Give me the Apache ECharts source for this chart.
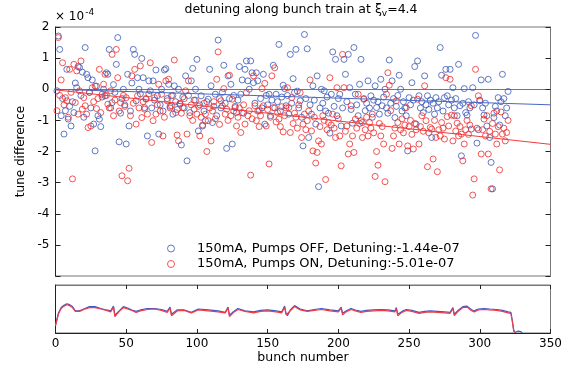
<!DOCTYPE html>
<html><head><meta charset="utf-8">
<script src="https://cdn.jsdelivr.net/npm/echarts@6/dist/echarts.min.js"></script>
<style>html,body{margin:0;padding:0;background:#fff}#c{width:570px;height:366px}</style>
</head><body><div id="c"></div>
<script>
// tune difference (units of 1e-4), one value per bunch starting at bunch 1
const blueTune = [
-0.05,1.71,1.28,-0.85,-0.3,-1.44,-0.69,0.64,-0.96,-0.55,
-1.18,-0.4,-0.75,0.2,0.05,0.73,0.7,-0.2,0.55,-0.9,
1.34,0.48,0.37,-0.1,-0.6,0.3,-1.12,-1.98,0.1,-0.85,
-0.96,-1.2,-0.25,0.0,-0.21,0.53,0.48,1.28,-0.6,-0.43,
0.15,-0.1,0.8,1.66,-1.69,-0.77,-0.3,0.0,-0.5,-1.76,
0.48,-1.18,-0.7,0.2,1.28,1.12,-0.37,0.37,0.0,-0.15,
0.99,0.37,-0.59,-0.3,-1.5,0.27,-0.05,-0.6,0.27,-0.35,
0.62,-0.21,-1.44,-0.5,0.0,-0.7,0.62,0.66,-0.3,0.16,
-0.55,-0.21,-0.8,0.11,-0.4,-0.65,0.0,-0.48,-1.79,-0.25,
-0.6,0.43,-2.3,-0.2,-0.75,0.27,0.67,-0.35,0.0,0.96,
-1.34,-0.5,-0.21,-1.18,-0.7,-1.01,-0.4,-0.32,0.64,0.11,
-1.07,-0.55,-0.16,-0.85,1.58,-0.3,-0.6,-0.1,0.77,-0.45,
-1.9,0.43,-0.3,0.16,-1.76,-0.2,-0.59,-0.75,-0.35,0.73,
-0.16,0.3,-0.77,0.64,0.91,0.27,0.0,0.91,0.53,0.21,
-0.45,0.53,0.27,-0.69,-0.3,-0.6,0.48,-1.12,-0.2,-0.5,
-0.16,-0.85,-0.35,0.77,-0.6,-0.16,-0.4,1.44,-0.7,-0.25,
0.13,0.02,-0.53,-0.2,-0.8,1.12,-0.45,0.34,-0.1,1.28,
-0.06,-0.6,-0.37,-0.9,-1.82,1.76,-0.3,1.3,-1.55,-0.5,
-0.8,0.11,-0.35,-1.12,0.43,-3.13,-0.6,0.0,-0.45,-0.05,
-0.7,-0.25,-0.77,-1.41,-0.16,1.2,-0.55,0.96,-0.85,-0.3,
-0.16,-1.18,-0.6,0.96,0.48,-0.4,1.12,0.05,-0.65,-1.09,
1.34,-0.16,-0.5,-0.85,0.16,0.96,-1.07,-0.3,-0.69,-0.45,
0.27,-0.6,-0.21,-0.9,-0.35,0.11,-0.59,-0.4,-0.8,0.32,
-0.53,-0.25,0.0,-0.6,-0.77,0.94,-0.45,0.27,-0.3,-0.91,
-0.55,-0.2,0.45,0.0,-0.7,-0.4,-0.6,-0.85,-1.98,-0.27,
-0.5,0.21,-0.35,0.73,-1.12,0.91,-0.21,-0.6,-0.4,-0.75,
0.43,-0.5,-0.21,-0.65,-0.35,-1.55,-0.45,-0.8,-0.27,-0.6,
-0.4,1.34,0.45,-0.7,-0.27,0.64,-0.21,-0.5,0.64,-0.35,
0.05,-0.6,-0.3,-0.85,0.8,-0.53,-2.14,-0.45,0.02,-0.75,
-0.83,-0.4,-0.6,-1.28,0.05,-0.5,1.73,-1.73,-1.3,-0.35,
0.3,-0.6,-0.83,-0.45,-1.18,0.32,-1.55,-2.35,-3.2,-0.91,
-0.55,-0.7,-0.27,-1.15,-0.4,0.48,-0.3,-0.85,-0.6,-0.07
];
const redTune = [
-0.69,1.66,-0.2,0.3,0.85,-0.5,-0.27,-0.37,-0.9,0.64,
-0.1,-2.88,0.8,-0.43,0.59,-0.8,-0.05,0.91,-0.64,-0.27,
-0.53,-0.8,-1.23,-0.1,-1.18,0.05,-0.4,0.1,-0.62,-0.3,
0.64,-0.75,-0.16,0.16,0.48,-0.2,-0.48,-0.6,-0.05,1.12,
-0.85,-0.35,1.28,0.37,-0.7,-0.43,-2.78,-0.2,-0.55,-0.27,
-2.94,-2.54,-0.85,0.43,-0.45,0.64,-1.12,-0.21,-0.6,0.75,
-0.91,-0.4,-0.64,-0.32,-0.8,-0.15,0.85,-1.71,-1.01,-0.27,
-0.8,-0.5,0.16,-0.7,-0.16,-1.5,-0.9,0.27,-0.37,0.32,
-0.6,-0.53,-0.2,0.94,-0.75,-1.47,-1.66,-0.45,-0.77,-0.59,
-0.3,-0.05,-1.44,0.27,-0.85,-0.5,-1.0,-0.64,-0.35,-0.8,
-0.55,-1.5,-0.9,-1.15,-0.45,-0.8,-2.0,-1.01,-0.6,-1.66,
-0.7,-0.4,-0.95,0.32,1.2,-1.13,-0.37,-0.53,0.02,-0.8,
-0.64,-1.0,0.45,-0.85,-0.32,-0.7,-0.55,-1.18,-0.9,-0.6,
-1.39,-0.75,-0.5,-1.12,-0.11,-0.85,-0.69,-2.76,-0.95,0.43,
-0.53,-1.01,-0.7,-1.2,-0.85,0.02,-0.53,0.19,-1.18,-0.65,
-2.4,-0.9,0.43,-0.59,0.69,-1.05,-0.75,-0.96,-1.2,-0.56,
-1.37,-0.85,-0.6,0.05,-0.59,-1.39,-0.27,-1.1,-0.77,-0.9,
-1.25,-0.5,-0.11,-1.55,-1.12,-0.8,-1.3,-1.01,-0.7,0.3,
-1.34,-1.98,-0.9,-2.37,-2.03,-1.66,-1.2,-1.76,-0.85,-1.0,
-2.9,-1.3,-1.07,0.37,-1.15,-0.8,-1.25,-1.55,0.05,-0.95,
-1.5,-2.46,1.12,0.05,-1.35,-1.18,-2.08,-1.76,-0.53,-1.5,
-2.03,-0.96,-1.25,-0.16,-1.1,-1.01,-1.55,-0.32,-1.3,-0.9,
-1.5,-1.07,-1.25,-0.8,-1.4,-2.8,-2.0,-2.44,-1.1,-1.5,
-1.2,-1.76,-2.97,-0.16,0.53,0.13,-0.69,-1.9,-1.5,-1.25,
-0.37,-1.07,-1.76,-1.3,-0.95,-1.4,-1.15,-0.59,-1.82,-1.2,
-1.0,-1.45,-1.92,-1.1,-1.3,-0.32,-1.76,-1.2,-0.85,-1.35,
0.11,-1.01,-2.49,-1.4,-1.23,-1.28,-2.24,-1.0,-1.55,-2.65,
-1.3,-1.5,-1.07,-1.25,-1.6,0.37,-0.88,-1.18,0.32,-0.83,
-1.66,-0.85,-1.34,-1.09,-1.5,-1.2,-1.44,-2.3,-1.76,-1.3,
-1.0,-1.45,-1.15,-0.53,-3.4,-2.88,0.64,-1.25,-0.21,-0.37,
-2.08,-1.3,-0.96,-1.5,-0.85,-2.08,-1.35,-3.2,-1.1,-0.77,
-1.44,-1.76,-1.2,-2.59,-0.73,-1.44,-1.25,-1.66,-1.39,-1.0
];
// linear fit end points (bunch, tune difference)
const fitBunch = [0, 350];
const blueFit = [0.0, -0.5];
const redFit = [-0.02, -1.77];
// bunch fill pattern (lower panel), sampled along the train
const curBunch = [0,2,4,6,8,10,12,14,15,17,20,24,28,32,36,39,40,41,42,43,45,48,51,54,57,60,65,70,75,79,80,81,82,83,86,91,96,101,108,115,120,121,122,123,124,126,129,134,140,145,150,156,160,161,162,163,164,166,169,173,178,183,188,194,200,201,202,203,204,206,209,212,216,220,225,230,235,240,241,242,243,245,248,252,257,261,265,270,275,279,280,281,282,283,285,288,291,294,296,299,303,307,312,316,320,322,323,324,325,326,327,328,329,330];
const blueCurrent = [0.17,0.41,0.53,0.58,0.61,0.59,0.55,0.46,0.42,0.46,0.5,0.55,0.55,0.51,0.48,0.46,0.48,0.56,0.37,0.35,0.46,0.55,0.52,0.48,0.45,0.48,0.51,0.51,0.49,0.45,0.47,0.54,0.39,0.36,0.48,0.48,0.43,0.5,0.48,0.46,0.43,0.44,0.54,0.37,0.33,0.45,0.51,0.46,0.44,0.47,0.48,0.46,0.44,0.45,0.56,0.41,0.36,0.48,0.57,0.5,0.46,0.49,0.51,0.48,0.46,0.46,0.54,0.41,0.38,0.47,0.51,0.48,0.45,0.47,0.48,0.49,0.48,0.46,0.53,0.39,0.35,0.45,0.49,0.47,0.43,0.45,0.46,0.45,0.44,0.43,0.44,0.53,0.39,0.35,0.48,0.55,0.56,0.49,0.46,0.5,0.51,0.5,0.49,0.47,0.44,0.43,0.26,0.06,0.01,0.02,0.04,0.0,0.03,0.0];
const redCurrent = [0.15,0.39,0.51,0.56,0.59,0.57,0.53,0.45,0.41,0.45,0.49,0.53,0.53,0.5,0.47,0.44,0.46,0.54,0.34,0.33,0.45,0.53,0.5,0.47,0.43,0.46,0.49,0.5,0.47,0.43,0.45,0.52,0.36,0.34,0.46,0.47,0.42,0.48,0.46,0.44,0.42,0.42,0.52,0.34,0.31,0.43,0.49,0.45,0.42,0.45,0.46,0.44,0.42,0.43,0.54,0.38,0.34,0.46,0.55,0.48,0.45,0.47,0.49,0.46,0.44,0.44,0.52,0.38,0.36,0.45,0.49,0.46,0.43,0.45,0.46,0.47,0.46,0.44,0.51,0.36,0.33,0.43,0.47,0.45,0.41,0.43,0.44,0.43,0.42,0.41,0.42,0.51,0.36,0.33,0.46,0.53,0.54,0.47,0.44,0.48,0.49,0.48,0.47,0.45,0.42,0.41,0.24,0.04,0.0];
const legendNames = ['150mA, Pumps OFF, Detuning:-1.44e-07', '150mA, Pumps ON, Detuning:-5.01e-07'];

const BLUE = '#3a58b4', RED = '#f02a2a';
const FONT = 'DejaVu Sans';
const chart = echarts.init(document.getElementById('c'), null, {renderer: 'canvas'});
const G0 = {left: 55.5, right: 19.5, top: 27, height: 249};
const G1 = {left: 55.5, right: 19.5, top: 285, height: 48};
const tickStyle = {color: '#000', fontFamily: FONT, fontSize: 12};
chart.setOption({
  animation: false,
  backgroundColor: '#fff',
  textStyle: {fontFamily: FONT},
  grid: [
    Object.assign({show: true, borderColor: '#777', borderWidth: 1, containLabel: false, outerBoundsMode: 'none'}, G0),
    Object.assign({show: true, borderColor: '#777', borderWidth: 1, containLabel: false, outerBoundsMode: 'none'}, G1)
  ],
  graphic: [
    {type: 'text', x: 301, y: 10, style: {text: '{t|detuning along bunch train at ξ}{s|v}{t|=4.4}', align: 'center', verticalAlign: 'middle',
      rich: {t: {fontFamily: FONT, fontSize: 12.5, fill: '#000'}, s: {fontFamily: FONT, fontSize: 9, fill: '#000', padding: [8, 0, 0, 0]}}}},
    {type: 'text', x: 55, y: 17, style: {text: '{t|× 10}{s|-4}', align: 'left', verticalAlign: 'middle',
      rich: {t: {fontFamily: FONT, fontSize: 12, fill: '#000'}, s: {fontFamily: FONT, fontSize: 9, fill: '#000', padding: [0, 0, 9, 1]}}}}
  ],
  legend: {
    data: legendNames, orient: 'vertical', left: 162, top: 237, itemWidth: 42, itemHeight: 7, itemGap: 2.5,
    itemStyle: {borderWidth: 1},
    textStyle: {fontFamily: FONT, fontSize: 13, color: '#000'}, selectedMode: false
  },
  xAxis: [
    {gridIndex: 0, type: 'value', min: 0, max: 350, interval: 50, axisLabel: {show: false}, axisTick: {show: false},
      axisLine: {show: true, lineStyle: {color: '#777'}}, splitLine: {show: false}},
    {gridIndex: 1, type: 'value', min: 0, max: 350, interval: 50, position: 'bottom',
      axisLabel: Object.assign({margin: 5}, tickStyle), axisTick: {inside: true, length: 4, lineStyle: {color: '#222'}},
      axisLine: {show: true, lineStyle: {color: '#222'}}, splitLine: {show: false},
      name: 'bunch number', nameLocation: 'middle', nameGap: 17, nameTextStyle: {fontFamily: FONT, fontSize: 12.5, color: '#000'}},
    {gridIndex: 1, type: 'value', min: 0, max: 350, interval: 50, position: 'top',
      axisLabel: {show: false}, axisTick: {inside: true, length: 4, lineStyle: {color: '#222'}},
      axisLine: {show: true, lineStyle: {color: '#777'}}, splitLine: {show: false}}
  ],
  yAxis: [
    {gridIndex: 0, type: 'value', min: -6, max: 2, interval: 1, position: 'left',
      axisLabel: Object.assign({margin: 6, formatter: v => (v === -6 ? '' : String(v))}, tickStyle),
      axisTick: {inside: true, length: 5, lineStyle: {color: '#222'}}, axisLine: {show: true, lineStyle: {color: '#222'}},
      splitLine: {show: false},
      name: 'tune difference', nameLocation: 'middle', nameGap: 28, nameRotate: 90,
      nameTextStyle: {fontFamily: FONT, fontSize: 12, color: '#000'}},
    {gridIndex: 0, type: 'value', min: -6, max: 2, interval: 1, position: 'right',
      axisLabel: {show: false}, axisTick: {inside: true, length: 5, lineStyle: {color: '#222'}},
      axisLine: {show: true, lineStyle: {color: '#777'}}, splitLine: {show: false}},
    {gridIndex: 1, type: 'value', min: 0, max: 1, axisLabel: {show: false}, axisTick: {show: false},
      axisLine: {show: true, lineStyle: {color: '#222'}}, splitLine: {show: false}}
  ],
  series: [
    {name: legendNames[0], type: 'scatter', xAxisIndex: 0, yAxisIndex: 0, symbol: 'circle', symbolSize: 6,
      itemStyle: {color: 'rgba(255,255,255,0)', borderColor: BLUE, borderWidth: 1},
      data: blueTune.map((v, i) => [i + 1, v])},
    {name: legendNames[1], type: 'scatter', xAxisIndex: 0, yAxisIndex: 0, symbol: 'circle', symbolSize: 6,
      itemStyle: {color: 'rgba(255,255,255,0)', borderColor: RED, borderWidth: 1},
      data: redTune.map((v, i) => [i + 1, v])},
    {type: 'line', xAxisIndex: 0, yAxisIndex: 0, showSymbol: false, symbol: 'none', silent: true,
      lineStyle: {color: '#4a68c4', width: 1}, data: fitBunch.map((b, i) => [b, blueFit[i]])},
    {type: 'line', xAxisIndex: 0, yAxisIndex: 0, showSymbol: false, symbol: 'none', silent: true,
      lineStyle: {color: '#f03c3c', width: 1}, data: fitBunch.map((b, i) => [b, redFit[i]])},
    {type: 'line', xAxisIndex: 1, yAxisIndex: 2, showSymbol: false, symbol: 'none', silent: true,
      lineStyle: {color: '#3a58c8', width: 1.2}, data: blueCurrent.map((v, i) => [curBunch[i], v])},
    {type: 'line', xAxisIndex: 1, yAxisIndex: 2, showSymbol: false, symbol: 'none', silent: true,
      lineStyle: {color: '#f23a46', width: 1.2}, data: redCurrent.map((v, i) => [curBunch[i], v])}
  ]
});
</script></body></html>
